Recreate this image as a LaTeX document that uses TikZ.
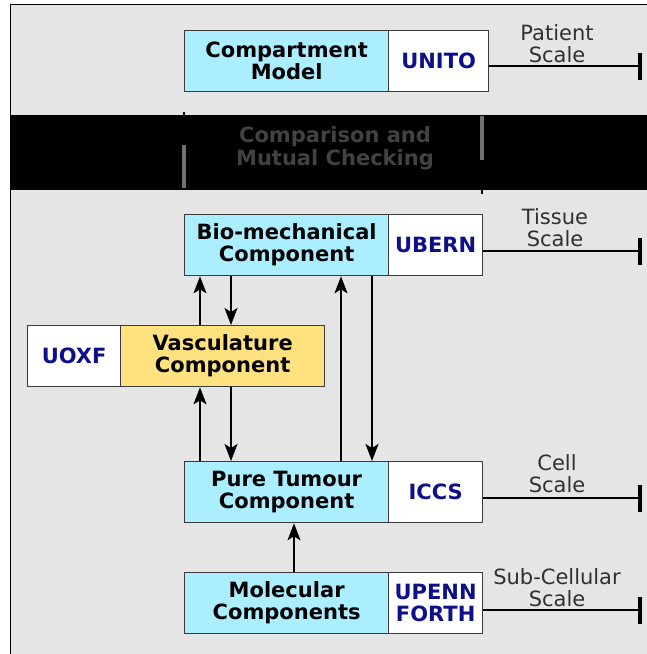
\documentclass[tikz,border=0pt]{standalone}
\usepackage{fontspec}
\setmainfont{DejaVu Sans}
\usetikzlibrary{arrows.meta}
\definecolor{bggray}{HTML}{E5E5E5}
\definecolor{boxcyan}{HTML}{AAEEFF}
\definecolor{boxyellow}{HTML}{FFE27F}
\definecolor{orgblue}{HTML}{0F0F8A}
\definecolor{edgegray}{HTML}{3A3A3A}
\definecolor{labgray}{HTML}{303030}
\definecolor{bandtext}{HTML}{424242}
\definecolor{bargray}{HTML}{707070}
\tikzset{
  basebox/.style={draw=edgegray, line width=1.3pt, inner sep=0pt, minimum height=61pt,
    anchor=north west, align=center, font=\fontsize{21}{22}\selectfont\bfseries},
  compbox/.style={basebox, fill=boxcyan, minimum width=204pt},
  vascbox/.style={basebox, fill=boxyellow, minimum width=204pt},
  orgbox/.style={basebox, fill=white, text=orgblue},
  arr/.style={line width=1.8pt, -{Stealth[length=17pt,width=13pt,inset=4pt]}},
  scaleline/.style={line width=2.8pt},
  scaletick/.style={line width=4pt},
  scalelab/.style={align=center, inner sep=0pt, text=labgray, font=\fontsize{21}{22}\selectfont},
}
\begin{document}
\begin{tikzpicture}[x=1pt,y=-1pt]
\useasboundingbox (0,0) rectangle (647,654);
% background frame
\fill[bggray] (10.5,4.5) rectangle (647,654);
\draw[line width=1.8pt] (10.5,654) -- (10.5,4.5) -- (647,4.5);
% black band
\fill[black] (10,115) rectangle (647,190);
\node[inner sep=0pt, align=center, text=bandtext, font=\fontsize{21}{23}\selectfont\bfseries] (band) at (335,148) {Comparison and\\Mutual Checking};
\draw[bargray, line width=4pt] (184,145) -- (184,188);
\draw[bargray, line width=4pt] (482,116) -- (482,160);
\draw[line width=1.5pt] (184,112) -- (184,116);
\draw[line width=1.5pt] (482,190) -- (482,194);
% boxes
\node[compbox] (cm) at (184,30) {Compartment\\Model};
\node[orgbox, minimum width=100pt] (cmo) at (388,30) {UNITO};
\node[compbox] (bio) at (184,214) {Bio-mechanical\\Component};
\node[orgbox, minimum width=94pt] (bioo) at (388,214) {UBERN};
\node[orgbox, minimum width=93pt] (vaso) at (27,325) {UOXF};
\node[vascbox] (vas) at (120,325) {Vasculature\\Component};
\node[compbox] (pt) at (184,461) {Pure Tumour\\Component};
\node[orgbox, minimum width=94pt] (pto) at (388,461) {ICCS};
\node[compbox] (mol) at (184,572) {Molecular\\Components};
\node[orgbox, minimum width=94pt] (molo) at (388,572) {UPENN\\FORTH};
% arrow x positions
\coordinate (xa) at (200,0);
\coordinate (xb) at (231,0);
\coordinate (xc) at (341,0);
\coordinate (xd) at (372,0);
\coordinate (xe) at (294,0);
\draw[arr] (vas.north -| xa) -- (bio.south -| xa);
\draw[arr] (bio.south -| xb) -- (vas.north -| xb);
\draw[arr] (pt.north -| xa) -- (vas.south -| xa);
\draw[arr] (vas.south -| xb) -- (pt.north -| xb);
\draw[arr] (pt.north -| xc) -- (bio.south -| xc);
\draw[arr] (bio.south -| xd) -- (pt.north -| xd);
\draw[arr] (mol.north -| xe) -- (pt.south -| xe);
% scale lines
\coordinate (s1) at (640,66);
\coordinate (s2) at (640,251);
\coordinate (s3) at (640,498);
\coordinate (s4) at (640,610);
\draw[scaleline] (cmo.east |- s1) -- (s1);
\draw[scaleline] (bioo.east |- s2) -- (s2);
\draw[scaleline] (pto.east |- s3) -- (s3);
\draw[scaleline] (molo.east |- s4) -- (s4);
\foreach \s in {s1,s2,s3,s4}{
  \draw[scaletick] ([yshift=-13.5pt]\s) -- ([yshift=13.5pt]\s);
}
\node[scalelab] (l1) at (557,44) {Patient\\Scale};
\node[scalelab] (l2) at (555,228) {Tissue\\Scale};
\node[scalelab] (l3) at (557,474) {Cell\\Scale};
\node[scalelab] (l4) at (557,588) {Sub-Cellular\\Scale};
\end{tikzpicture}
\end{document}
